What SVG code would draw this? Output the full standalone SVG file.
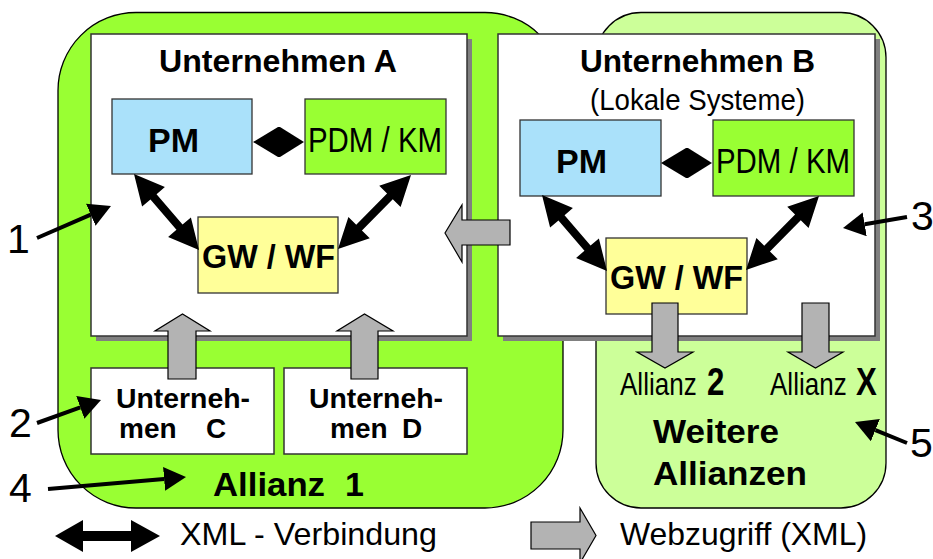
<svg xmlns="http://www.w3.org/2000/svg" width="933" height="559" viewBox="0 0 933 559">
<style>
text{font-family:"Liberation Sans",Arial,sans-serif;fill:#000}
.n{font-family:"Liberation Sans Narrow","Liberation Sans",Arial,sans-serif}
.b{font-weight:bold}
.al{stroke:#000;stroke-width:1.3}
.box{fill:#fff;stroke:#333;stroke-width:1.5}
.sh{fill:#808080}
.pm{fill:#aae1fa;stroke:#333;stroke-width:1.3}
.pdm{fill:#99ff33;stroke:#333;stroke-width:1.3}
.gw{fill:#ffff99;stroke:#333;stroke-width:1.3}
.ga{fill:#b3b3b3;stroke:#000;stroke-width:1.2}
.ba{fill:#000}
.ln{stroke:#000;stroke-width:4;fill:none;marker-end:url(#h)}
</style>
<defs>
<marker id="h" markerUnits="userSpaceOnUse" markerWidth="24" markerHeight="26" refX="0" refY="12" orient="auto">
<path d="M0,0 L22,12 L0,24 Z" fill="#000"/>
</marker>
</defs>
<rect width="933" height="559" fill="#fff"/>
<g id="allianz1">
<rect x="58" y="12.5" width="505" height="495.5" rx="78" ry="78" fill="#99ff33" class="al"/>
<text x="213" y="496" class="b" font-size="34" textLength="112" lengthAdjust="spacingAndGlyphs">Allianz</text>
<text x="345" y="496" class="b" font-size="34">1</text>
</g>
<g id="weitere">
<rect x="596" y="12.5" width="290" height="495.5" rx="45" ry="45" fill="#ccff99" class="al"/>
<text x="653" y="443" class="b" font-size="34" textLength="126" lengthAdjust="spacingAndGlyphs">Weitere</text>
<text x="653" y="485" class="b" font-size="34" textLength="154" lengthAdjust="spacingAndGlyphs">Allianzen</text>
<text transform="translate(620,395) scale(0.84,1)" font-size="31">Allianz</text>
<text transform="translate(707,395) scale(0.8,1)" class="b" font-size="39">2</text>
<text transform="translate(770,395) scale(0.84,1)" font-size="31">Allianz</text>
<text transform="translate(856,395) scale(0.8,1)" class="b" font-size="39">X</text>
</g>
<g id="unternehmenA">
<rect x="96" y="39" width="376" height="302" class="sh"/>
<rect x="91" y="34" width="376" height="302" class="box"/>
<text x="159" y="72" class="b" font-size="32" textLength="238" lengthAdjust="spacingAndGlyphs">Unternehmen A</text>
</g>
<g id="pmA">
<rect x="112" y="99" width="140" height="75" class="pm"/>
<text x="148" y="152" class="b" font-size="34" textLength="51" lengthAdjust="spacingAndGlyphs">PM</text>
</g>
<g id="pdmA">
<rect x="305" y="99" width="141" height="75" class="pdm"/>
<text x="308" y="152" class="n" font-size="35" textLength="134" lengthAdjust="spacingAndGlyphs">PDM / KM</text>
</g>
<g id="gwA">
<rect x="198" y="217" width="140" height="76" class="gw"/>
<text x="202" y="268" class="b" font-size="33" textLength="133" lengthAdjust="spacingAndGlyphs">GW / WF</text>
</g>
<g id="unternehmenB">
<rect x="503" y="39" width="377" height="302" class="sh"/>
<rect x="498" y="34" width="377" height="302" class="box"/>
<text x="580" y="72" class="b" font-size="32" textLength="235" lengthAdjust="spacingAndGlyphs">Unternehmen B</text>
<text x="590" y="110" class="n" font-size="29" textLength="215" lengthAdjust="spacingAndGlyphs">(Lokale Systeme)</text>
</g>
<g id="pmB">
<rect x="520" y="120" width="141" height="76" class="pm"/>
<text x="556" y="173" class="b" font-size="34" textLength="51" lengthAdjust="spacingAndGlyphs">PM</text>
</g>
<g id="pdmB">
<rect x="713" y="120" width="141" height="76" class="pdm"/>
<text x="716" y="173" class="n" font-size="35" textLength="134" lengthAdjust="spacingAndGlyphs">PDM / KM</text>
</g>
<g id="gwB">
<rect x="606" y="238" width="141" height="76" class="gw"/>
<text x="610" y="289" class="b" font-size="33" textLength="133" lengthAdjust="spacingAndGlyphs">GW / WF</text>
</g>
<g id="unternehmenC">
<rect x="91" y="368" width="183" height="86" class="box"/>
<text x="116" y="408" class="b" font-size="28" textLength="134" lengthAdjust="spacingAndGlyphs">Unterneh-</text>
<text x="119" y="438" class="b" font-size="28">men</text>
<text x="206" y="438" class="b" font-size="28">C</text>
</g>
<g id="unternehmenD">
<rect x="284" y="368" width="183" height="86" class="box"/>
<text x="309" y="408" class="b" font-size="28" textLength="134" lengthAdjust="spacingAndGlyphs">Unterneh-</text>
<text x="330" y="438" class="b" font-size="28">men</text>
<text x="402" y="438" class="b" font-size="28">D</text>
</g>
<g id="connectors">
<polygon class="ba" points="253,142 278,127 280,127 304,142 280,157 278,157"/>
<polygon class="ba" points="661,163 686,148 688,148 712,163 688,178 686,178"/>
<polygon class="ba" points="134,174 164.9,187.05 156.54,194.2 182.54,224.6 190.9,217.45 199,250 168.1,236.95 176.46,229.8 150.46,199.4 142.1,206.55"/>
<polygon class="ba" points="411,175 379.24,185.83 387.07,193.56 356.23,224.82 348.4,217.09 338,249 369.76,238.17 361.93,230.44 392.77,199.18 400.6,206.91"/>
<polygon class="ba" transform="translate(408,21)" points="134,174 164.9,187.05 156.54,194.2 182.54,224.6 190.9,217.45 199,250 168.1,236.95 176.46,229.8 150.46,199.4 142.1,206.55"/>
<polygon class="ba" transform="translate(408,21)" points="411,175 379.24,185.83 387.07,193.56 356.23,224.82 348.4,217.09 338,249 369.76,238.17 361.93,230.44 392.77,199.18 400.6,206.91"/>
<polygon class="ga" points="510,220 510,245 462,245 462,262 445,233 462,205 462,220"/>
<polygon class="ga" points="168,379 168,331 155,331 182.5,314 210,331 196,331 196,379"/>
<polygon class="ga" points="351,379 351,331 337,331 364.5,314 393,331 378,331 378,379"/>
<polygon class="ga" points="652,303 678,303 678,352 693,352 665,368 637,352 652,352"/>
<polygon class="ga" points="802,303 829,303 829,352 843,352 815.5,368 788,352 802,352"/>
<line class="ln" x1="37" y1="238" x2="90.8" y2="214.7"/>
<line class="ln" x1="37" y1="423" x2="80.3" y2="407.4"/>
<line class="ln" x1="907" y1="217" x2="864.7" y2="224.3"/>
<line class="ln" x1="48" y1="489" x2="164.1" y2="478.9"/>
<line class="ln" x1="907" y1="443" x2="875.4" y2="430.2"/>
</g>
<g id="labels">
<text x="7" y="253" font-size="41">1</text>
<text x="9" y="437" font-size="41">2</text>
<text x="911" y="230" font-size="41">3</text>
<text x="9" y="502" font-size="41">4</text>
<text x="910" y="457" font-size="41">5</text>
</g>
<g id="legend">
<polygon class="ba" points="55,536 83,520 83,531 131,531 131,520 160,536 131,552 131,541 83,541 83,552"/>
<text x="180" y="545" font-size="32" textLength="257" lengthAdjust="spacingAndGlyphs">XML - Verbindung</text>
<polygon class="ga" points="531,522 580,522 580,508 596,535.5 580,563 580,549 531,549"/>
<text x="620" y="545" font-size="32" textLength="247" lengthAdjust="spacingAndGlyphs">Webzugriff (XML)</text>
</g>
</svg>
